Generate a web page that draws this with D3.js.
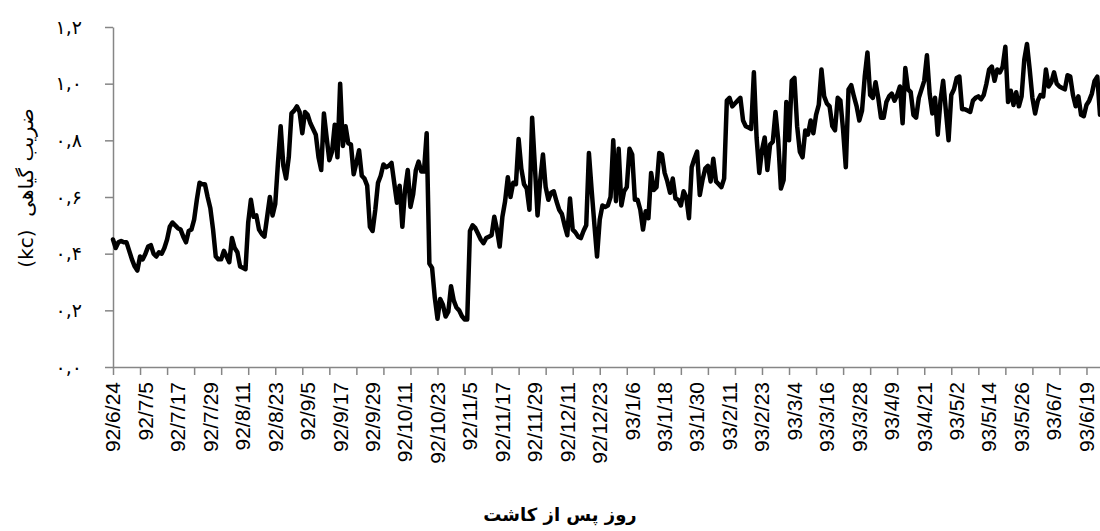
<!DOCTYPE html>
<html lang="fa">
<head>
    <meta charset="UTF-8">
    <title>ضریب گیاهی</title>
    <script src="https://cdnjs.cloudflare.com/ajax/libs/d3/7.8.5/d3.min.js"></script>
    <style>
        * { margin: 0; padding: 0; }
        body { background: #fff; width: 1100px; height: 531px; overflow: hidden; }
        svg { display: block; font-family: "Liberation Sans", Arial, "DejaVu Sans", sans-serif; }
        .axis path, .axis line { stroke: #868686; stroke-width: 1.5; }
    </style>
</head>
<body>
<div id="chart"></div>
<script>
    // daily kc values (92/6/24 ... end)
    const kcValues = [
        0.45, 0.42, 0.44, 0.445, 0.44, 0.44, 0.41, 0.38, 0.355, 0.34,
        0.39, 0.38, 0.40, 0.425, 0.43, 0.40, 0.39, 0.405, 0.40, 0.42,
        0.45, 0.495, 0.51, 0.50, 0.49, 0.485, 0.46, 0.44, 0.48, 0.485,
        0.52, 0.59, 0.65, 0.645, 0.645, 0.60, 0.56, 0.485, 0.39, 0.38,
        0.38, 0.41, 0.39, 0.37, 0.455, 0.42, 0.405, 0.355, 0.35, 0.345,
        0.51, 0.59, 0.53, 0.535, 0.485, 0.47, 0.46, 0.53, 0.60, 0.535,
        0.575, 0.72, 0.85, 0.71, 0.665, 0.74, 0.895, 0.905, 0.92, 0.90,
        0.825, 0.90, 0.89, 0.86, 0.84, 0.82, 0.74, 0.695, 0.895, 0.81,
        0.73, 0.76, 0.855, 0.74, 1.00, 0.78, 0.85, 0.79, 0.785, 0.68,
        0.72, 0.765, 0.675, 0.665, 0.64, 0.495, 0.48, 0.555, 0.65, 0.675,
        0.715, 0.705, 0.71, 0.72, 0.65, 0.58, 0.64, 0.495, 0.625, 0.695,
        0.565, 0.61, 0.695, 0.725, 0.69, 0.69, 0.825, 0.365, 0.35, 0.245,
        0.17, 0.24, 0.22, 0.178, 0.195, 0.285, 0.235, 0.21, 0.20, 0.18,
        0.168, 0.168, 0.48, 0.50, 0.49, 0.47, 0.45, 0.437, 0.455, 0.46,
        0.465, 0.53, 0.485, 0.425, 0.53, 0.585, 0.67, 0.60, 0.65, 0.645,
        0.805, 0.70, 0.645, 0.63, 0.555, 0.88, 0.71, 0.535, 0.66, 0.75,
        0.635, 0.59, 0.615, 0.62, 0.585, 0.555, 0.54, 0.50, 0.465, 0.595,
        0.485, 0.475, 0.46, 0.455, 0.48, 0.50, 0.755, 0.625, 0.505, 0.39,
        0.52, 0.57, 0.565, 0.57, 0.60, 0.80, 0.585, 0.77, 0.57, 0.62,
        0.635, 0.77, 0.75, 0.59, 0.59, 0.555, 0.485, 0.55, 0.525, 0.685,
        0.625, 0.635, 0.755, 0.75, 0.685, 0.655, 0.615, 0.665, 0.595, 0.59,
        0.57, 0.62, 0.60, 0.525, 0.705, 0.735, 0.76, 0.607, 0.66, 0.70,
        0.71, 0.655, 0.735, 0.655, 0.645, 0.635, 0.665, 0.94, 0.95, 0.92,
        0.93, 0.94, 0.95, 0.87, 0.85, 0.845, 0.84, 1.04, 0.81, 0.685,
        0.765, 0.81, 0.695, 0.785, 0.795, 0.90, 0.80, 0.63, 0.66, 0.935,
        0.80, 1.01, 1.02, 0.85, 0.76, 0.74, 0.835, 0.82, 0.87, 0.825,
        0.89, 0.925, 1.05, 0.955, 0.93, 0.92, 0.85, 0.835, 0.95, 0.94,
        0.835, 0.705, 0.98, 0.995, 0.955, 0.92, 0.87, 0.905, 1.025, 1.11,
        0.96, 0.95, 1.005, 0.95, 0.88, 0.88, 0.935, 0.955, 0.965, 0.94,
        0.96, 0.99, 0.86, 1.055, 0.98, 0.97, 0.89, 0.88, 0.95, 0.98,
        1.01, 1.10, 0.965, 0.895, 0.95, 0.82, 0.94, 1.01, 0.905, 0.80,
        0.96, 0.98, 1.02, 1.025, 0.91, 0.91, 0.905, 0.90, 0.94, 0.95,
        0.955, 0.945, 0.96, 1.00, 1.05, 1.06, 1.01, 1.05, 1.04, 1.06,
        1.13, 0.935, 0.975, 0.925, 0.97, 0.92, 0.955, 1.085, 1.14, 1.05,
        0.95, 0.895, 0.94, 0.96, 0.955, 1.05, 0.99, 1.005, 1.04, 1.00,
        0.99, 0.985, 0.98, 1.03, 1.025, 0.96, 0.92, 0.955, 0.89, 0.885,
        0.925, 0.94, 0.965, 1.01, 1.025, 0.89
    ];

    // one label every 12 days
    const dateLabels = [
        "92/6/24", "92/7/5", "92/7/17", "92/7/29", "92/8/11", "92/8/23",
        "92/9/5", "92/9/17", "92/9/29", "92/10/11", "92/10/23", "92/11/5",
        "92/11/17", "92/11/29", "92/12/11", "92/12/23", "93/1/6", "93/1/18",
        "93/1/30", "93/2/11", "93/2/23", "93/3/4", "93/3/16", "93/3/28",
        "93/4/9", "93/4/21", "93/5/2", "93/5/14", "93/5/26", "93/6/7", "93/6/19"
    ];
    const labelStep = 12;
    const tickStep = 10;

    const yTicks = [0, 0.2, 0.4, 0.6, 0.8, 1.0, 1.2];

    const xTitle = "روز پس از کاشت";
    const yTitle = "ضریب گیاهی\u00a0\u00a0(kc)";

    const width = 1100, height = 531;
    const plot = { left: 113, right: 1100, top: 27, bottom: 367 };

    const persianDigits = "۰۱۲۳۴۵۶۷۸۹";
    const toPersian = v => d3.format(".1f")(v)
        .replace(/\d/g, d => persianDigits[+d])
        .replace(".", ",");

    const svg = d3.select("#chart").append("svg")
        .attr("width", width)
        .attr("height", height);

    svg.append("rect").attr("width", width).attr("height", height).attr("fill", "#fff");

    const x = d3.scaleLinear()
        .domain([0, kcValues.length - 1])
        .range([plot.left, plot.right]);

    const y = d3.scaleLinear()
        .domain([0, 1.2])
        .range([plot.bottom, plot.top]);

    // y axis
    const yAxis = svg.append("g")
        .attr("class", "axis")
        .attr("transform", `translate(${plot.left},0)`)
        .call(d3.axisLeft(y)
            .tickValues(yTicks)
            .tickSize(8)
            .tickSizeOuter(0)
            .tickPadding(23)
            .tickFormat(toPersian));
    yAxis.selectAll("text")
        .attr("font-size", 19)
        .attr("fill", "#000")
        .attr("font-family", "'DejaVu Sans', sans-serif");

    // x axis: tick marks every 10 days, labels every 12 days
    svg.append("g")
        .attr("class", "axis")
        .attr("transform", `translate(0,${plot.bottom})`)
        .call(d3.axisBottom(x)
            .tickValues(d3.range(0, kcValues.length, tickStep))
            .tickSize(8)
            .tickSizeOuter(0)
            .tickFormat(""));

    svg.append("g")
        .selectAll("text")
        .data(dateLabels)
        .join("text")
        .attr("transform", (d, i) => `translate(${x(i * labelStep)},${plot.bottom + 15}) rotate(-90)`)
        .attr("text-anchor", "end")
        .attr("dy", "0.35em")
        .attr("font-size", 21)
        .attr("fill", "#000")
        .text(d => d);

    // kc line
    const line = d3.line()
        .x((d, i) => x(i))
        .y(d => y(d));

    svg.append("path")
        .datum(kcValues)
        .attr("d", line)
        .attr("fill", "none")
        .attr("stroke", "#000")
        .attr("stroke-width", 4.5)
        .attr("stroke-linejoin", "round")
        .attr("stroke-linecap", "round");

    // titles
    svg.append("text")
        .attr("x", 560)
        .attr("y", 521)
        .attr("text-anchor", "middle")
        .attr("font-size", 18)
        .attr("font-weight", "bold")
        .attr("font-family", "'DejaVu Sans', sans-serif")
        .style("direction", "rtl")
        .text(xTitle);

    svg.append("text")
        .attr("transform", "translate(33,188) rotate(-90)")
        .attr("text-anchor", "middle")
        .attr("font-size", 20)
        .attr("font-family", "'DejaVu Sans', sans-serif")
        .style("direction", "rtl")
        .text(yTitle);
</script>
</body>
</html>
